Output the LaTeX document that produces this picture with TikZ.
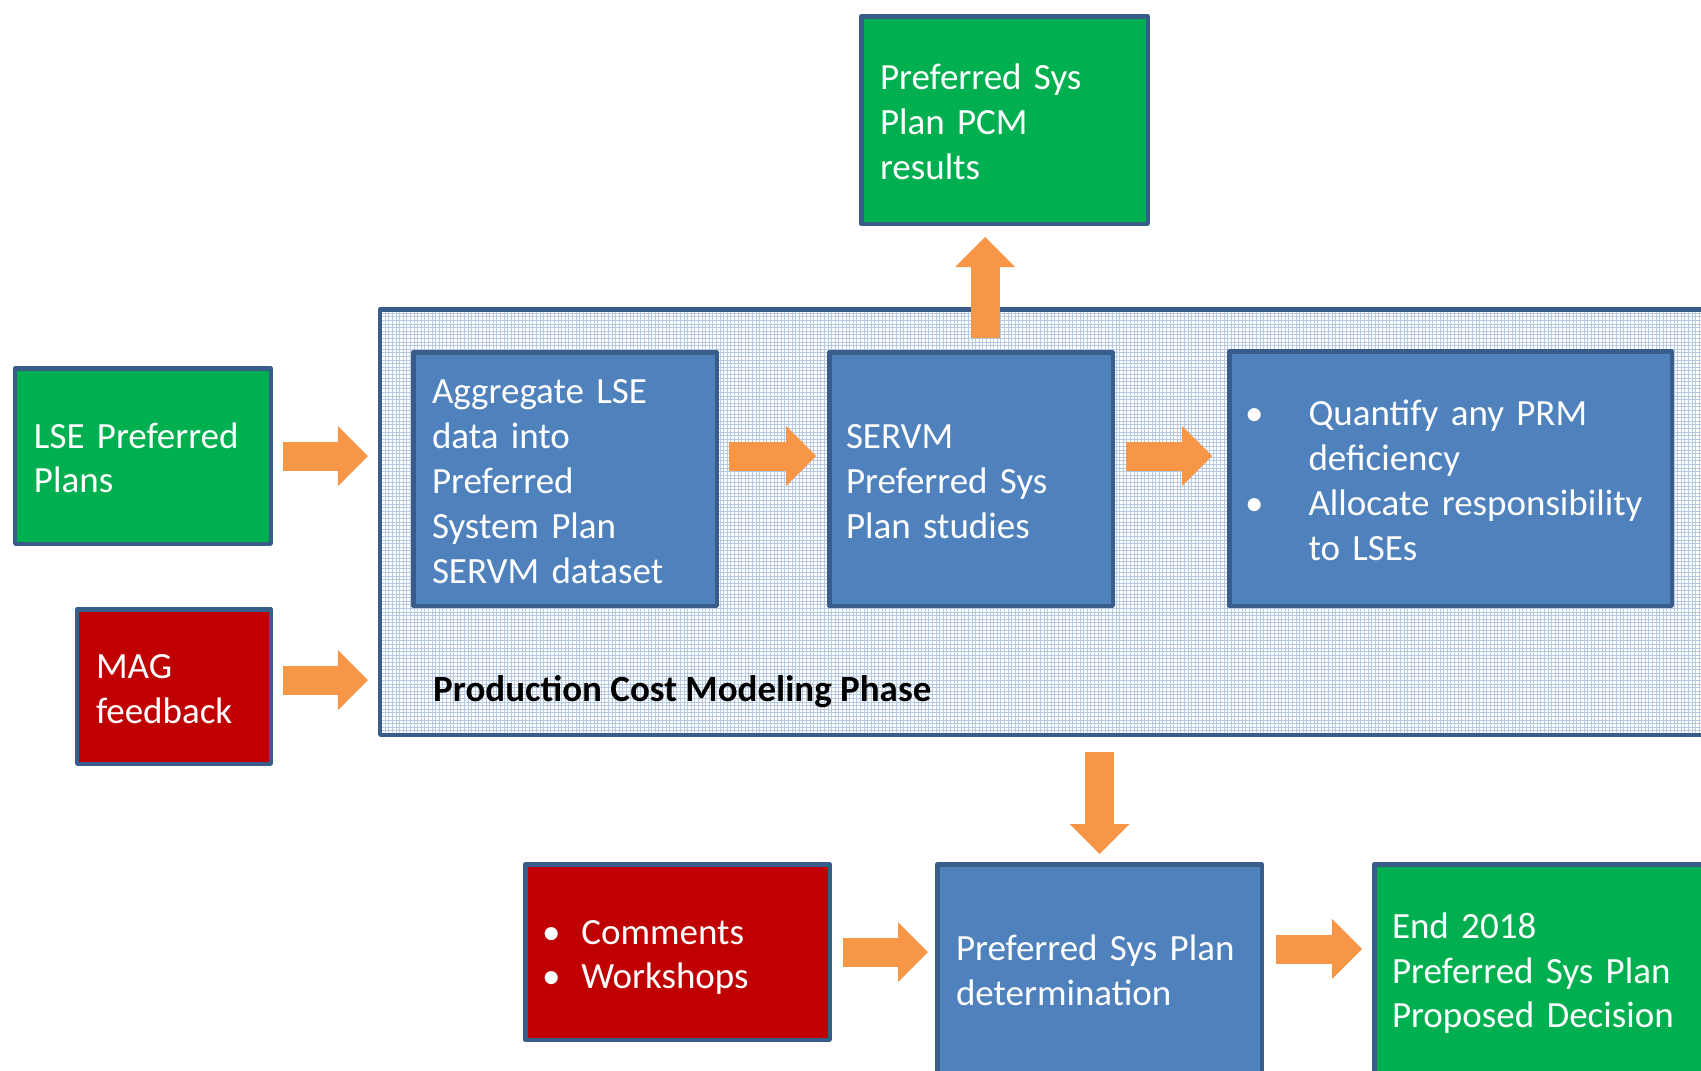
\documentclass[tikz,border=0pt]{standalone}
\usepackage{fontspec}
\setmainfont{Carlito}
\usetikzlibrary{arrows.meta}

\definecolor{boxgreen}{HTML}{00B050}
\definecolor{boxred}{HTML}{C00000}
\definecolor{boxblue}{HTML}{4F81BD}
\definecolor{boxline}{HTML}{385D8A}
\definecolor{flowarrow}{HTML}{F79646}
\definecolor{gridblue}{HTML}{B5C9E3}

\newcommand\boxfont{\fontsize{37bp}{44.8bp}\selectfont}
% asymmetric strut so the lines sit centred in each box
\newcommand\tstrut{\rule[-7.9bp]{0pt}{44.8bp}}
\newcommand\itembullet[1]{\makebox[#1][l]{\textbullet}}

\tikzset{
  flowbox/.style={draw=boxline, line width=4.5bp, line join=round, rectangle,
    text=white, font=\boxfont, align=left, inner ysep=0pt,
    execute at begin node=\tstrut, execute at end node=\tstrut},
  greenbox/.style={flowbox, fill=boxgreen},
  redbox/.style={flowbox, fill=boxred},
  bluebox/.style={flowbox, fill=boxblue},
  frameline/.style={draw=boxline, line width=4.5bp, line join=round},
  gridline/.style={draw=gridblue, line width=1bp},
  flow/.style={draw=flowarrow, line width=29bp,
    -{Triangle[length=30bp,width=60bp,line width=0pt]}},
}

\begin{document}
\begin{tikzpicture}[x=1bp,y=-1bp]
\useasboundingbox (0,0) rectangle (1701,1070);
\clip (0,0) rectangle (1701,1070);

% phase container with its fine grid texture
\node[draw=none, fill=white, outer sep=0pt, inner sep=0pt,
      minimum width=1379.75bp, minimum height=425.5bp] (pcm) at (1070.125,522) {};
\begin{scope}
  \clip (pcm.south west) rectangle (pcm.north east);
  \draw[gridline, step=3.6bp] (pcm.south west) grid (pcm.north east);
\end{scope}
\draw[frameline] (pcm.south west) rectangle (pcm.north east);
\node[anchor=base west, font=\boxfont\bfseries, inner sep=0pt] (pcmlabel)
  at (433,701) {Production Cost Modeling Phase};

% inputs
\node[greenbox, minimum width=255.5bp, minimum height=175.5bp,
      inner xsep=18.75bp, text width=218bp] (lse) at (143,456)
  {LSE Preferred\\Plans};
\node[redbox, minimum width=193.5bp, minimum height=154.5bp,
      inner xsep=18.75bp, text width=156bp] (mag) at (174,686.5)
  {MAG\\feedback};

% steps inside the phase
\node[bluebox, minimum width=303.5bp, minimum height=253.5bp,
      inner xsep=18.75bp, text width=266bp] (agg) at (565,479)
  {Aggregate LSE\\data into\\Preferred\\System Plan\\SERVM dataset};
\node[bluebox, minimum width=283.5bp, minimum height=253.5bp,
      inner xsep=16.75bp, text width=250bp] (servm) at (971,479)
  {SERVM\\Preferred Sys\\Plan studies};
\node[bluebox, minimum width=442.5bp, minimum height=254.5bp,
      inner xsep=15.7bp, text width=411bp] (q) at (1450.5,478.5)
  {\itembullet{63.5bp}Quantify any PRM\\\hspace*{63.5bp}deficiency\\
   \itembullet{63.5bp}Allocate responsibility\\\hspace*{63.5bp}to LSEs};

% results
\node[greenbox, minimum width=286.5bp, minimum height=207.5bp,
      inner xsep=18.75bp, text width=249bp] (res) at (1004.5,120)
  {Preferred Sys\\Plan PCM\\results};

% bottom row
\node[redbox, minimum width=304.5bp, minimum height=175.5bp,
      inner xsep=16.7bp, text width=271bp] (cm) at (677.5,952)
  {\itembullet{39.3bp}Comments\\\itembullet{39.3bp}Workshops};
\node[bluebox, minimum width=324.5bp, minimum height=208.5bp,
      inner xsep=18.75bp, text width=287bp] (det) at (1099.5,968.5)
  {Preferred Sys Plan\\determination};
\node[greenbox, minimum width=380bp, minimum height=208.5bp,
      inner xsep=17.75bp, text width=344.5bp] (end) at (1564.25,968.5)
  {End 2018\\Preferred Sys Plan\\Proposed Decision};

% flow arrows
\coordinate (upx) at (985,0);
\draw[flow, shorten <=10bp, shorten >=12.25bp] (lse.east) -- (lse.east -| pcm.west);
\draw[flow, shorten <=10bp, shorten >=12.25bp]
  ([yshift=6.5bp]mag.east) -- ([yshift=6.5bp]mag.east -| pcm.west);
\draw[flow, shorten <=10bp, shorten >=11bp] (agg.east |- lse.east) -- (servm.west |- lse.east);
\draw[flow, shorten <=11bp, shorten >=15bp] (servm.east |- lse.east) -- (q.west |- lse.east);
\draw[flow, shorten <=12bp, shorten >=11bp] (upx |- servm.north) -- (upx |- res.south);
\draw[flow, shorten <=17bp, shorten >=8bp] (det.north |- pcm.south) -- (det.north);
\draw[flow, shorten <=11bp, shorten >=7bp] (cm.east) -- (cm.east -| det.west);
\draw[flow, shorten <=12bp, shorten >=10bp]
  ([yshift=19.5bp]det.east) -- ([yshift=19.5bp]det.east -| end.west);
\end{tikzpicture}
\end{document}
